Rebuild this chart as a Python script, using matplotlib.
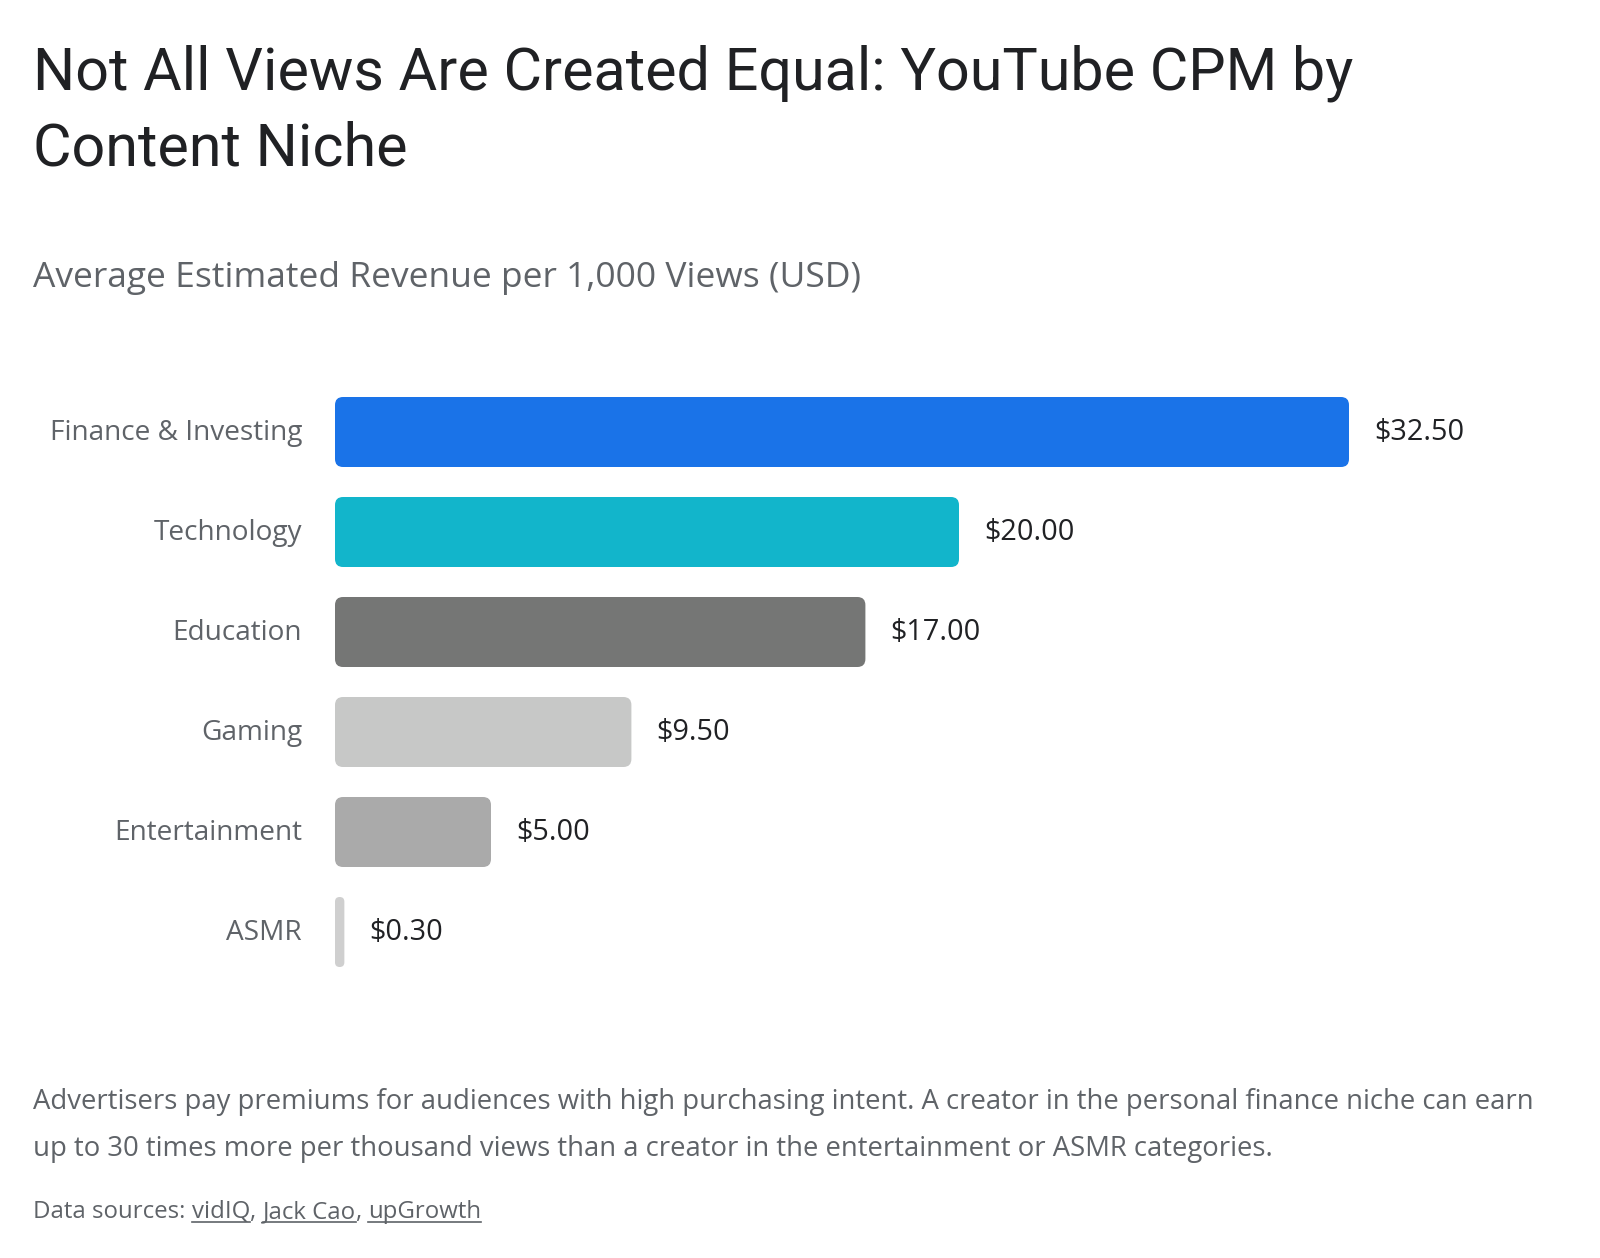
import matplotlib
matplotlib.use("Agg")
import matplotlib.pyplot as plt
from matplotlib.patches import FancyBboxPatch

categories = ["Finance & Investing", "Technology", "Education", "Gaming", "Entertainment", "ASMR"]
cpm_values = [32.50, 20.00, 17.00, 9.50, 5.00, 0.30]
bar_colors = ["#1a73e8", "#12b5cb", "#757675", "#c7c8c7", "#aaaaaa", "#cfcfcf"]
value_labels = ["$32.50", "$20.00", "$17.00", "$9.50", "$5.00", "$0.30"]

title_lines = ["Not All Views Are Created Equal: YouTube CPM by", "Content Niche"]
subtitle = "Average Estimated Revenue per 1,000 Views (USD)"
note_lines = ["Advertisers pay premiums for audiences with high purchasing intent. A creator in the personal finance niche can earn",
              "up to 30 times more per thousand views than a creator in the entertainment or ASMR categories."]
source_prefix = "Data sources: "
source_links = ["vidIQ", "Jack Cao", "upGrowth"]

plt.rcParams['font.family'] = ['Open Sans', 'DejaVu Sans']
TITLE_FONT = ['Roboto', 'DejaVu Sans']

W, H = 1600, 1258
fig = plt.figure(figsize=(W / 100, H / 100), dpi=100)
fig.patch.set_facecolor("white")

def fx(px):
    return px / W

def fy(py):
    return 1 - py / H

# Title and subtitle
fig.text(fx(33), fy(90), title_lines[0], fontsize=42.7, color="#202124", va="baseline", ha="left", family=TITLE_FONT)
fig.text(fx(33), fy(165), title_lines[1], fontsize=42.7, color="#202124", va="baseline", ha="left", family=TITLE_FONT)
fig.text(fx(33), fy(287), subtitle, fontsize=25.5, color="#5f6368", va="baseline", ha="left")

# Axes: bars
ax_left, ax_right = 335, 1560
row_top, row_bottom = 382, 982
ax = fig.add_axes([fx(ax_left), fy(row_bottom), fx(ax_right - ax_left), (row_bottom - row_top) / H])
xmax = (ax_right - ax_left) / 31.2
ax.set_xlim(0, xmax)
ax.set_ylim(len(categories) - 0.5, -0.5)
ax.axis("off")

ypos = list(range(len(categories)))
bars = ax.barh(ypos, cpm_values, height=0.7, color=bar_colors)

px_per_x = (ax_right - ax_left) / xmax
px_per_y = (row_bottom - row_top) / len(categories)
aspect = (1 / px_per_y) / (1 / px_per_x)
radius_px = 8
for b, c in zip(bars, bar_colors):
    x0, y0, w, h = b.get_x(), b.get_y(), b.get_width(), b.get_height()
    r = min(radius_px / px_per_x, w / 2)
    patch = FancyBboxPatch((x0, y0), w, h,
                           boxstyle=f"round,pad=0,rounding_size={r}",
                           mutation_aspect=aspect, facecolor=c, edgecolor="none")
    ax.add_patch(patch)
    b.set_visible(False)

for i, (v, lab) in enumerate(zip(cpm_values, value_labels)):
    ax.annotate(lab, xy=(v, i), xytext=(25, -1), textcoords="offset pixels",
                ha="left", va="center", fontsize=20.8, color="#202124")
    ax.annotate(categories[i], xy=(0, i), xytext=(-33, -1), textcoords="offset pixels",
                ha="right", va="center", fontsize=20.2, color="#5f6368")

# Footer
fig.text(fx(33), fy(1109), note_lines[0], fontsize=19.8, color="#5f6368", va="baseline", ha="left")
fig.text(fx(33), fy(1156), note_lines[1], fontsize=19.8, color="#5f6368", va="baseline", ha="left")

renderer = fig.canvas.get_renderer()
fs_src = 17.3
t = fig.text(fx(33), fy(1218), source_prefix, fontsize=fs_src, color="#5f6368", va="baseline", ha="left")
x_cur = t.get_window_extent(renderer).x1
sep = ", "
for k, name in enumerate(source_links):
    tl = fig.text(x_cur / W, fy(1218), name, fontsize=fs_src, color="#5f6368", va="baseline", ha="left")
    bb = tl.get_window_extent(renderer)
    fig.add_artist(plt.Line2D([bb.x0 / W, bb.x1 / W], [fy(1222), fy(1222)],
                              transform=fig.transFigure, color="#5f6368", linewidth=1.2))
    x_cur = bb.x1
    if k < len(source_links) - 1:
        ts = fig.text(x_cur / W, fy(1218), sep, fontsize=fs_src, color="#5f6368", va="baseline", ha="left")
        x_cur = ts.get_window_extent(renderer).x1

fig.savefig("out.png", dpi=100, facecolor="white")
